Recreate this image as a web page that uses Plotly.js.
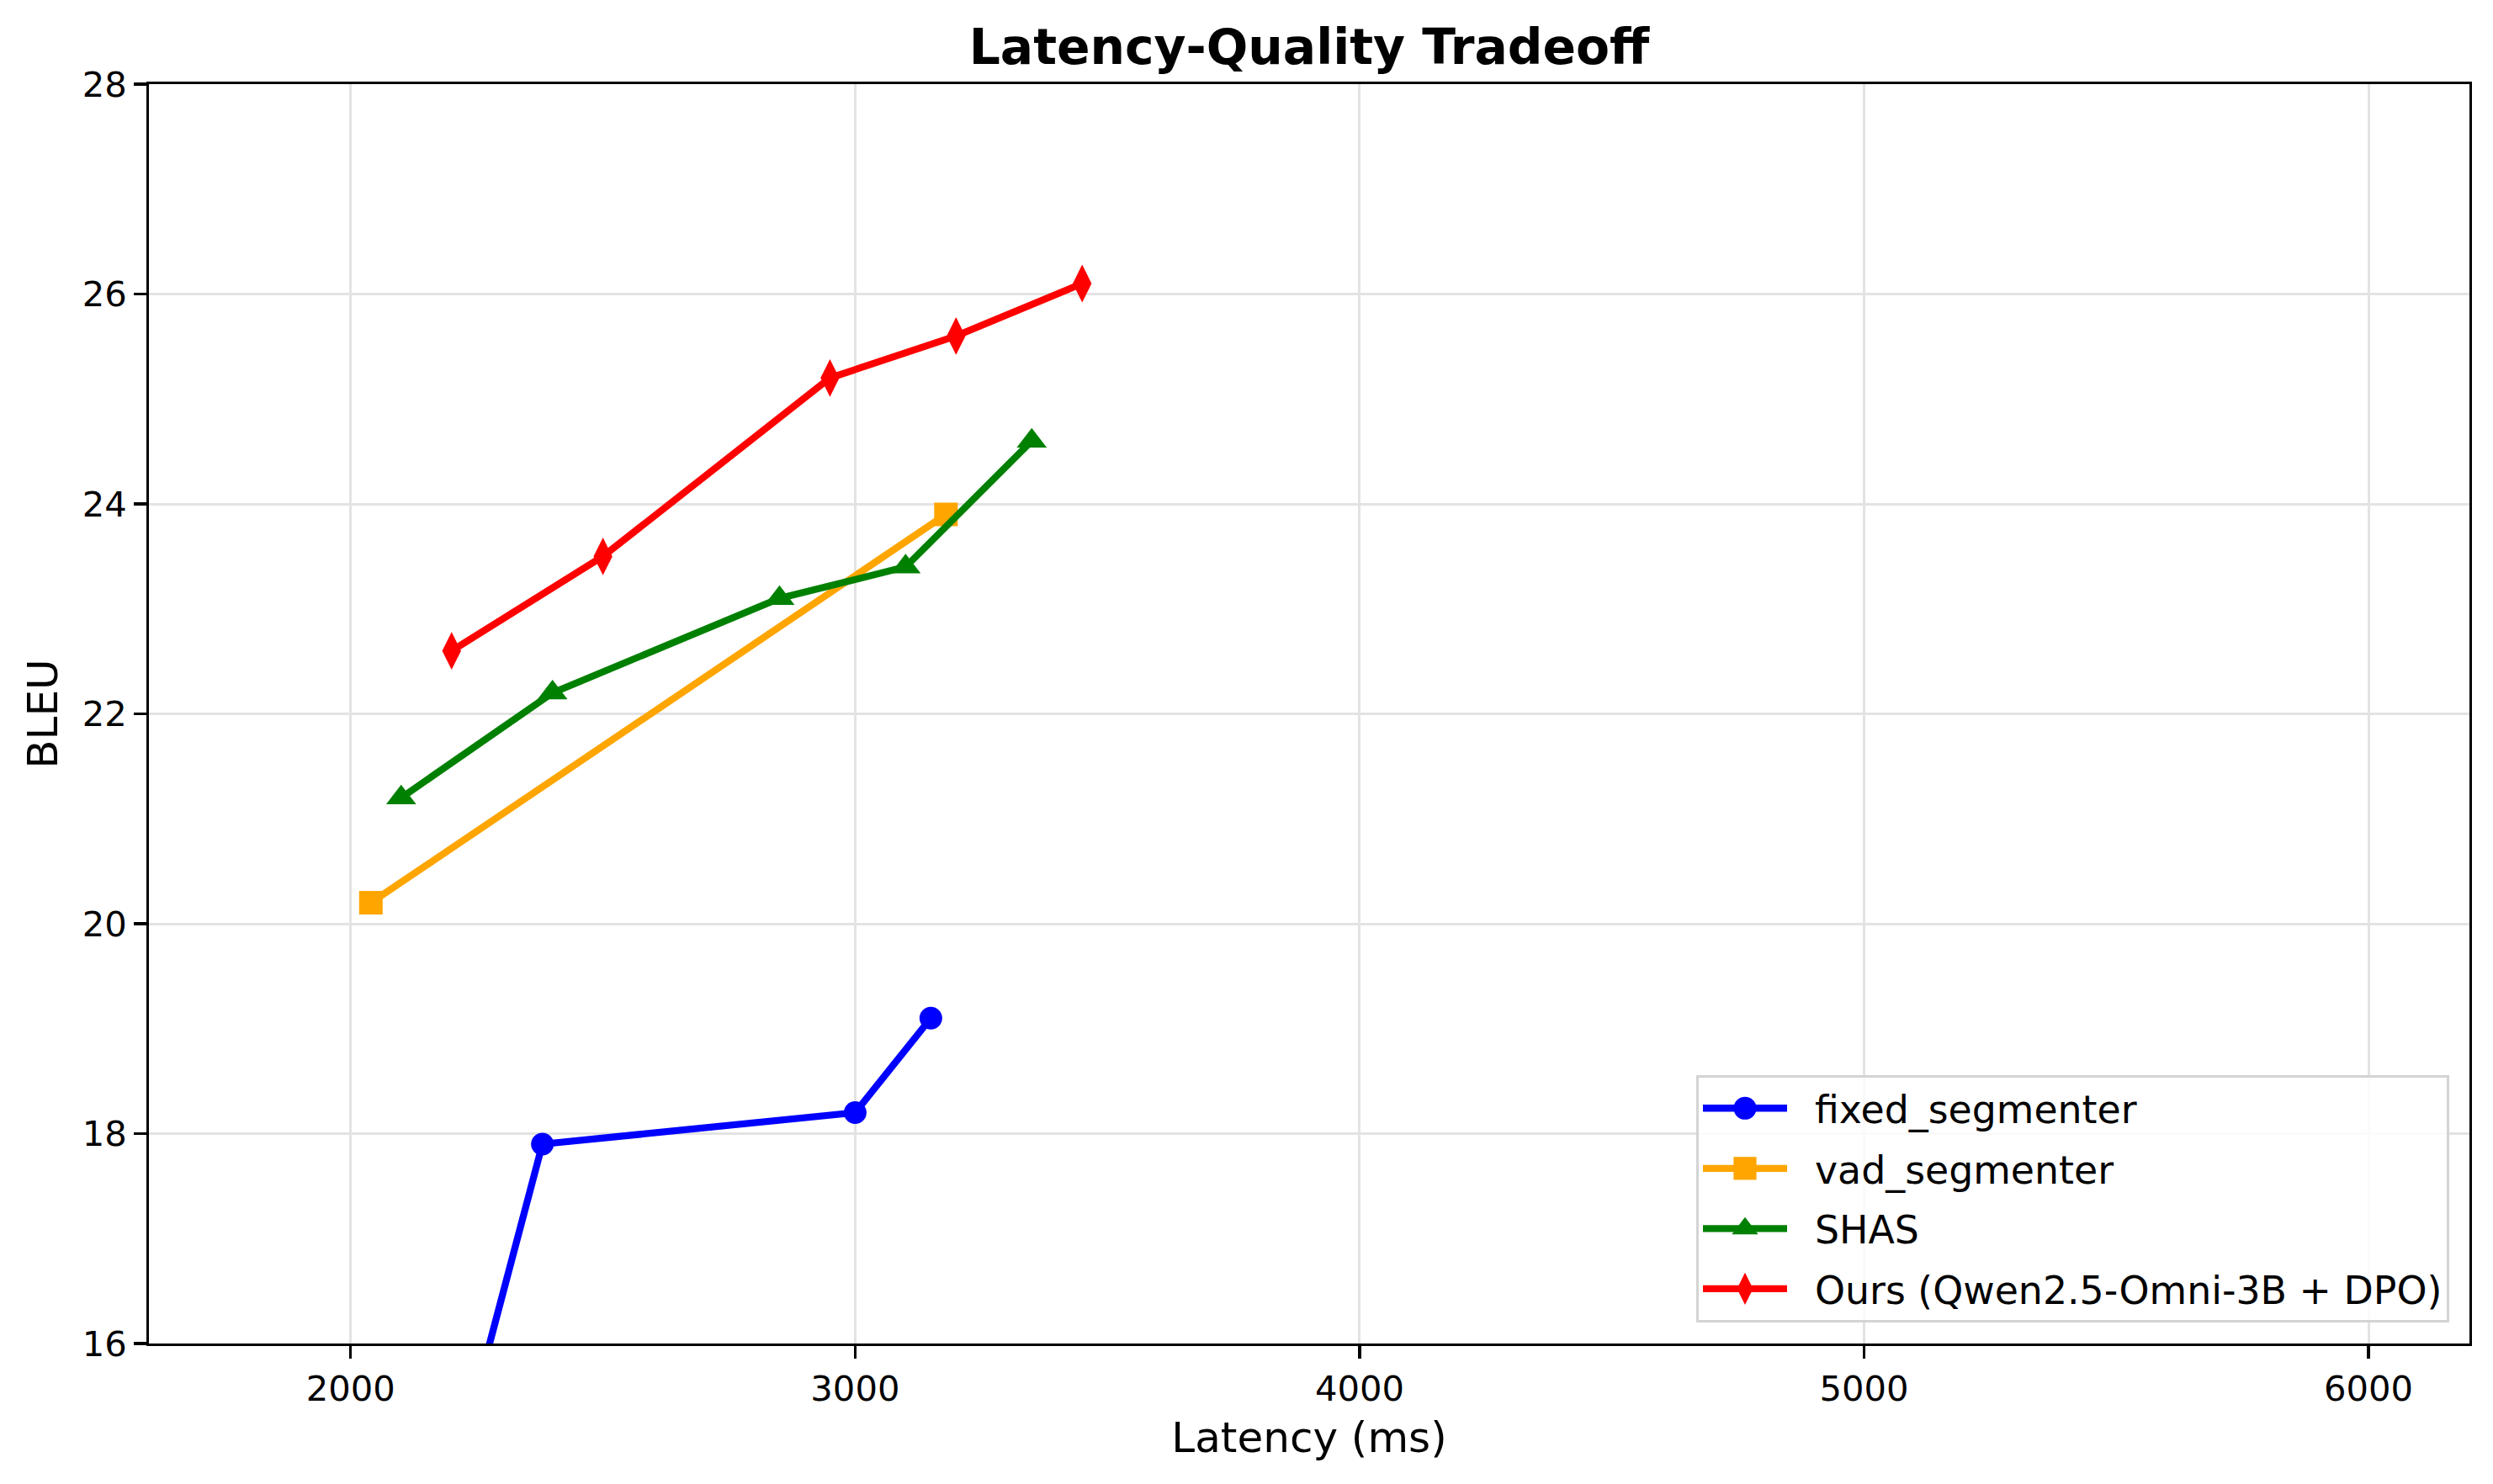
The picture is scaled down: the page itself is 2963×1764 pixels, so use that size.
<!DOCTYPE html>
<html>
<head>
<meta charset="utf-8">
<script src="https://cdn.plot.ly/plotly-3.0.1.min.js"></script>
<style>
html, body { margin: 0; padding: 0; background: #ffffff; }
#chart { width: 2963px; height: 1764px; }
</style>
</head>
<body>
<div id="chart"></div>
<script>
// ---- Data ----
const seriesNames = ["fixed_segmenter", "vad_segmenter", "SHAS", "Ours (Qwen2.5-Omni-3B + DPO)"];

const fixedLatency = [2000, 2380, 3000, 3150];
const fixedBleu    = [11.0, 17.9, 18.2, 19.1];

const vadLatency = [2040, 3180];
const vadBleu    = [20.2, 23.9];

const shasLatency = [2100, 2400, 2850, 3100, 3350];
const shasBleu    = [21.2, 22.2, 23.1, 23.4, 24.6];

const oursLatency = [2200, 2500, 2950, 3200, 3450];
const oursBleu    = [22.6, 23.5, 25.2, 25.6, 26.1];

const xTicks = [2000, 3000, 4000, 5000, 6000];
const yTicks = [16, 18, 20, 22, 24, 26, 28];

// ---- Styling ----
const FONT = "DejaVu Sans, Liberation Sans, sans-serif";
const LW = 8.3;

function trace(x, y, name, color, symbol, size, group) {
  return {
    type: "scatter", mode: "lines+markers",
    x: x, y: y, name: name,
    legendgroup: group,
    line: { color: color, width: LW },
    marker: { color: color, symbol: symbol, size: size, line: { width: 0 } },
    cliponaxis: true
  };
}

const data = [
  trace(fixedLatency, fixedBleu, seriesNames[0], "#0000ff", "circle", 27, "g1"),
  trace(vadLatency, vadBleu, seriesNames[1], "#ffa500", "square", 28, "g2"),
  trace(shasLatency, shasBleu, seriesNames[2], "#008000", "triangle-up", 31, "g3"),
  trace(oursLatency, oursBleu, seriesNames[3], "#ff0000", "diamond-tall", 32, "g4")
];

const axisCommon = {
  showline: true, linecolor: "#000000", linewidth: 3.3, mirror: true,
  ticks: "outside", ticklen: 14.6, tickwidth: 3.3, tickcolor: "#000000",
  showgrid: true, gridcolor: "#e3e3e3", gridwidth: 3,
  zeroline: false,
  tickfont: { family: FONT, size: 41.7, color: "#000000" }
};

const layout = {
  width: 2963, height: 1764,
  paper_bgcolor: "#ffffff", plot_bgcolor: "#ffffff",
  margin: { l: 177, r: 28, t: 100, b: 167, pad: 0 },
  font: { family: FONT, color: "#000000" },
  title: {
    text: "<b>Latency-Quality Tradeoff</b>",
    font: { family: FONT, size: 58.3, color: "#000000" },
    x: 0.5, xref: "paper", xanchor: "center",
    y: 1 - 56 / 1764, yref: "container", yanchor: "middle"
  },
  xaxis: Object.assign({}, axisCommon, {
    range: [1600, 6200],
    tickmode: "array", tickvals: xTicks, ticktext: xTicks.map(String),
    title: { text: "Latency (ms)", font: { family: FONT, size: 50, color: "#000000" }, standoff: 18 }
  }),
  yaxis: Object.assign({}, axisCommon, {
    range: [16, 28],
    tickmode: "array", tickvals: yTicks, ticktext: yTicks.map(String),
    title: { text: "BLEU", font: { family: FONT, size: 50, color: "#000000" }, standoff: 14 }
  }),
  showlegend: true,
  legend: {
    x: 0.9913, xanchor: "right",
    y: 0.0167, yanchor: "bottom",
    bgcolor: "rgba(255,255,255,0.8)",
    bordercolor: "#d4d4d4", borderwidth: 3,
    font: { family: FONT, size: 45.8, color: "#000000" },
    traceorder: "grouped",
    tracegroupgap: 9,
    itemwidth: 128
  }
};

Plotly.newPlot("chart", data, layout, { staticPlot: true, displayModeBar: false }).then(function (gd) {
  // enlarge legend samples (line length and marker size) to match the reference
  gd.querySelectorAll(".legend .traces").forEach(function (tr) {
    tr.querySelectorAll(".legendlines path").forEach(function (p) {
      p.setAttribute("d", "M5,0h100");
      p.style.strokeWidth = LW + "px";
    });
    tr.querySelectorAll(".legendpoints path").forEach(function (p) {
      p.setAttribute("transform", "translate(55,0) scale(1.7)");
    });
  });
});
</script>
</body>
</html>
